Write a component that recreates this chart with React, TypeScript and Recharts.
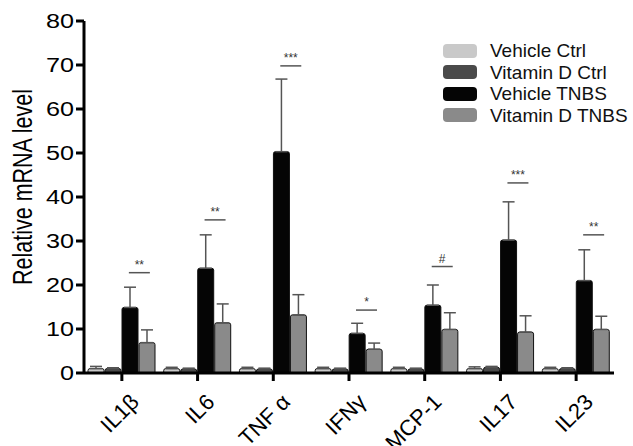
import React from "react";
import {
  ComposedChart,
  Bar,
  ErrorBar,
  Scatter,
  XAxis,
  YAxis,
} from "recharts";

const categories = ["IL1β", "IL6", "TNF α", "IFNγ", "MCP-1", "IL17", "IL23"];
const vehicleCtrl = [1.0, 1.0, 1.0, 1.0, 1.0, 1.0, 1.0];
const vehicleCtrlErr = [0.5, 0.3, 0.3, 0.3, 0.3, 0.4, 0.3];
const vitDCtrl = [1.0, 0.9, 0.9, 0.9, 0.9, 1.3, 1.0];
const vitDCtrlErr = [0.2, 0.2, 0.2, 0.2, 0.2, 0.2, 0.2];
const vehicleTnbs = [14.9, 23.8, 50.3, 9.0, 15.4, 30.2, 21.0];
const vehicleTnbsErr = [4.6, 7.6, 16.5, 2.3, 4.6, 8.7, 7.0];
const vitDTnbs = [6.9, 11.4, 13.2, 5.4, 9.9, 9.3, 9.9];
const vitDTnbsErr = [2.9, 4.3, 4.6, 1.4, 3.8, 3.7, 3.0];
const sigY = [22.8, 34.8, 69.8, 14.3, 24.2, 43.2, 31.4];
const sigLabel = ["**", "**", "***", "*", "#", "***", "**"];
const yTicks = [0, 10, 20, 30, 40, 50, 60, 70, 80];

const series = [
  { key: "vehicleCtrl", name: "Vehicle Ctrl", fill: "#c9c9c9" },
  { key: "vitDCtrl", name: "Vitamin D Ctrl", fill: "#4a4a4a" },
  { key: "vehicleTnbs", name: "Vehicle TNBS", fill: "#050505" },
  { key: "vitDTnbs", name: "Vitamin D TNBS", fill: "#8a8a8a" },
];

const data = categories.map((name, i) => ({
  name,
  vehicleCtrl: vehicleCtrl[i],
  vehicleCtrlErr: [0, vehicleCtrlErr[i]],
  vitDCtrl: vitDCtrl[i],
  vitDCtrlErr: [0, vitDCtrlErr[i]],
  vehicleTnbs: vehicleTnbs[i],
  vehicleTnbsErr: [0, vehicleTnbsErr[i]],
  vitDTnbs: vitDTnbs[i],
  vitDTnbsErr: [0, vitDTnbsErr[i]],
  sigY: sigY[i],
  sigLabel: sigLabel[i],
}));

const FONT = "'Liberation Sans', Arial, sans-serif";

// bracket over the TNBS pair, drawn from the category centre
const SigMark = (props: any) => {
  const { cx, cy, payload } = props;
  if (cx == null || cy == null) return null;
  return (
    <g>
      <line x1={cx + 7} x2={cx + 28} y1={cy} y2={cy} stroke="#555" strokeWidth={1.5} />
      <text
        x={cx + 17.5}
        y={cy - 4}
        textAnchor="middle"
        fontSize={12}
        fontFamily={FONT}
        fill="#333"
      >
        {payload.sigLabel}
      </text>
    </g>
  );
};

const XTick = (props: any) => {
  const { x, y, payload } = props;
  const tx = x + 7;
  const ty = y + 9;
  return (
    <text
      x={tx}
      y={ty}
      transform={`rotate(-45 ${tx} ${ty})`}
      textAnchor="end"
      dominantBaseline="hanging"
      fontSize={22}
      fontFamily={FONT}
      fill="#000"
    >
      {payload.value}
    </text>
  );
};

// the source figure's digits are wide, so stretch them a little
const YTick = (props: any) => {
  const { x, y, payload } = props;
  const label = String(payload.value);
  return (
    <text
      x={x}
      y={y}
      textAnchor="end"
      dominantBaseline="central"
      fontSize={20}
      fontFamily={FONT}
      fill="#000"
      textLength={label.length * 14}
      lengthAdjust="spacingAndGlyphs"
    >
      {label}
    </text>
  );
};

export default function App() {
  return (
    <div style={{ position: "absolute", left: 0, top: 0, width: 633, height: 446, background: "#fff" }}>
      <ComposedChart
        width={633}
        height={446}
        data={data}
        margin={{ top: 21, right: 19, bottom: 0, left: 0 }}
        barSize={16}
        barGap={1}
      >
        <XAxis
          dataKey="name"
          height={73}
          axisLine={{ stroke: "#000", strokeWidth: 3 }}
          tickLine={{ stroke: "#000", strokeWidth: 3 }}
          tickSize={8}
          interval={0}
          tick={<XTick />}
        />
        <YAxis
          width={84}
          domain={[0, 80]}
          ticks={yTicks}
          interval={0}
          axisLine={{ stroke: "#000", strokeWidth: 3 }}
          tickLine={{ stroke: "#000", strokeWidth: 3 }}
          tickSize={8}
          tick={<YTick />}
        />
        {series.map((s) => (
          <Bar
            key={s.key}
            dataKey={s.key}
            name={s.name}
            fill={s.fill}
            stroke="#111"
            strokeWidth={1}
            radius={[2, 2, 0, 0]}
            isAnimationActive={false}
          >
            <ErrorBar
              dataKey={`${s.key}Err`}
              width={6}
              strokeWidth={1.5}
              stroke="#555"
              direction="y"
            />
          </Bar>
        ))}
        <Scatter
          dataKey="sigY"
          shape={<SigMark />}
          legendType="none"
          isAnimationActive={false}
        />
      </ComposedChart>
      <svg
        width={60}
        height={446}
        style={{ position: "absolute", left: 0, top: 0, pointerEvents: "none" }}
      >
        <text
          transform="translate(22 187) scale(1.3 1) rotate(-90)"
          textAnchor="middle"
          dominantBaseline="central"
          fontSize={21.5}
          fontFamily={FONT}
          fill="#000"
        >
          Relative mRNA level
        </text>
      </svg>
      <div style={{ position: "absolute", left: 443, top: 40, fontFamily: FONT }}>
        {series.map((s) => (
          <div key={s.key} style={{ display: "flex", alignItems: "center", height: 21.5 }}>
            <span
              style={{
                display: "inline-block",
                width: 34,
                height: 14,
                borderRadius: 4,
                background: s.fill,
                marginRight: 13,
              }}
            />
            <span style={{ fontSize: 19, color: "#111", lineHeight: "21.5px" }}>{s.name}</span>
          </div>
        ))}
      </div>
    </div>
  );
}
